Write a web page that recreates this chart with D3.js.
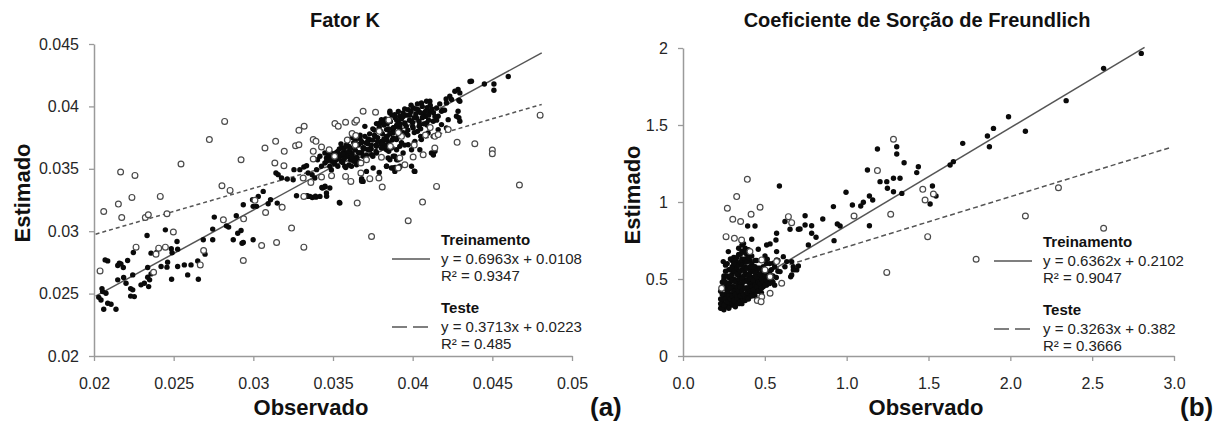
<!DOCTYPE html>
<html><head><meta charset="utf-8">
<script src="https://cdn.jsdelivr.net/npm/d3@7"></script>
<style>
html,body{margin:0;padding:0;background:#fff;}
svg{display:block;font-family:"Liberation Sans",Arial,sans-serif;}
</style></head>
<body><svg id="c" width="1227" height="426"></svg>
<script>
// ---------- DATA ----------
const titles = ["Fator K", "Coeficiente de Sorção de Freundlich"];
const axisTitleX = "Observado", axisTitleY = "Estimado";
const panelTags = ["(a)", "(b)"];

const kXTicks = [0.02,0.025,0.03,0.035,0.04,0.045,0.05];
const kXLabels = ["0.02","0.025","0.03","0.035","0.04","0.045","0.05"];
const kYTicks = [0.02,0.025,0.03,0.035,0.04,0.045];
const kYLabels = ["0.02","0.025","0.03","0.035","0.04","0.045"];
const fXTicks = [0,0.5,1,1.5,2,2.5,3];
const fXLabels = ["0.0","0.5","1.0","1.5","2.0","2.5","3.0"];
const fYTicks = [0,0.5,1,1.5,2];
const fYLabels = ["0","0.5","1","1.5","2"];

// trend lines: [slope, intercept, xStart, xEnd]
const kTrainFit = [0.6963, 0.0108, 0.0201, 0.0481];
const kTestFit  = [0.3713, 0.0223, 0.0201, 0.0481];
const fTrainFit = [0.6362, 0.2102, 0.23, 2.82];
const fTestFit  = [0.3263, 0.382, 0.23, 2.97];

const kLegend = [["Treinamento","y = 0.6963x + 0.0108","R² = 0.9347"],["Teste","y = 0.3713x + 0.0223","R² = 0.485"]];
const fLegend = [["Treinamento","y = 0.6362x + 0.2102","R² = 0.9047"],["Teste","y = 0.3263x + 0.382","R² = 0.3666"]];

// Fator K – training (filled)
const kTrain = [
[0.02086,0.02762],[0.02149,0.02725],[0.02159,0.02744],[0.02169,0.02738],[0.02184,0.02709],[0.02211,0.02765],[0.02247,0.02829],[0.02333,0.02966],[0.02448,0.03011],[0.02521,0.02918],[0.02755,0.03113],[0.02745,0.03017],[0.02831,0.03043],[0.02845,0.03033],[0.02893,0.03124],[0.02937,0.03212],[0.02902,0.02984],[0.02923,0.03006],[0.02937,0.02910],[0.02874,0.02931],[0.02929,0.02904],[0.02745,0.02931],[0.02686,0.02931],[0.02697,0.02816],[0.02525,0.02856],[0.02485,0.02859],[0.02490,0.02827],[0.02458,0.02712],[0.02421,0.02717],[0.02337,0.02709],[0.02358,0.02658],[0.02337,0.02631],[0.02349,0.02610],[0.02316,0.02583],[0.02343,0.02556],[0.02295,0.02570],[0.02243,0.02530],[0.02253,0.02476],[0.02243,0.02650],[0.02186,0.02629],[0.02201,0.02583],[0.02149,0.02610],[0.02075,0.02503],[0.02054,0.02516],[0.02086,0.02423],[0.02107,0.02415],[0.02044,0.02449],[0.02061,0.02374],[0.02138,0.02374],[0.02358,0.02824],[0.02393,0.02829],[0.02487,0.02615],[0.02588,0.02650],[0.02655,0.02615],[0.02609,0.02730],[0.02567,0.02730],[0.02651,0.02762],[0.02462,0.02752],[0.02525,0.02717],[0.0207,0.0277],[0.0203,0.0247],[0.0205,0.0254],[0.0223,0.0248],[0.0223,0.0254],
[0.02995,0.03252],[0.03031,0.03279],[0.03062,0.03319],[0.03020,0.03199],[0.02999,0.03199],[0.03093,0.03220],[0.03108,0.03252],[0.03150,0.03225],[0.03177,0.03199],[0.03142,0.03466],[0.03156,0.03453],[0.03177,0.03426],[0.03213,0.03418],[0.03250,0.03412],[0.03255,0.03493],[0.03292,0.03493],[0.03317,0.03514],[0.03334,0.03525],[0.03344,0.03466],[0.03369,0.03453],[0.03397,0.03493],[0.03386,0.03426],[0.03434,0.03346],[0.03449,0.03354],[0.03480,0.03346],[0.03459,0.03306],[0.03418,0.03279],[0.03393,0.03273],[0.03355,0.03279],[0.03338,0.03284],[0.03271,0.03284],[0.03543,0.03225],[0.02999,0.02931],
[0.03403,0.03573],[0.03418,0.03600],[0.03449,0.03627],[0.03480,0.03640],[0.03501,0.03600],[0.03522,0.03573],[0.03554,0.03560],[0.03564,0.03627],[0.03595,0.03600],[0.03606,0.03640],[0.03637,0.03586],[0.03669,0.03627],[0.03689,0.03667],[0.03710,0.03707],[0.03731,0.03734],[0.03763,0.03760],[0.03773,0.03680],[0.03815,0.03720],[0.03836,0.03760],[0.03857,0.03787],[0.03878,0.03814],[0.03899,0.03841],[0.03909,0.03881],[0.03857,0.03948],[0.03804,0.03894],[0.03773,0.03862],[0.03836,0.03653],[0.03867,0.03506],[0.03888,0.03479],[0.03836,0.03520],[0.03752,0.03506],[0.03710,0.03479],[0.03679,0.03412],[0.03689,0.03399],[0.03648,0.03533],[0.03616,0.03520],[0.03574,0.03520],[0.03480,0.03520],[0.03449,0.03546],[0.03428,0.03520],[0.03459,0.03586],[0.03491,0.03560],[0.03522,0.03613],[0.03554,0.03667],[0.03585,0.03693],[0.03606,0.03667],[0.03648,0.03693],[0.03679,0.03720],[0.03721,0.03653],[0.03742,0.03613],[0.03773,0.03627],[0.03804,0.03667],[0.03899,0.03734],[0.03899,0.03653],[0.03878,0.03600],[0.03857,0.03573],[0.03909,0.03573],[0.03920,0.03520],
[0.04369,0.04202],[0.04285,0.04135],[0.04296,0.04108],[0.04265,0.04121],[0.04233,0.04081],[0.04244,0.04055],[0.04212,0.04028],[0.04296,0.04041],[0.04285,0.03961],[0.04275,0.03921],[0.04296,0.03881],[0.04223,0.03894],[0.04108,0.04041],[0.04087,0.04041],[0.04055,0.04028],[0.04034,0.03974],[0.04003,0.03988],[0.03972,0.03974],[0.03982,0.03934],[0.03940,0.03948],[0.03919,0.03921],[0.03888,0.03934],[0.03857,0.03961],[0.03846,0.03894],[0.03815,0.03881],[0.03794,0.03867],[0.03836,0.03814],[0.03878,0.03827],[0.03919,0.03841],[0.03951,0.03867],[0.03993,0.03881],[0.04024,0.03907],[0.04066,0.03934],[0.04108,0.03961],[0.04150,0.03988],[0.04181,0.03961],[0.04160,0.03921],[0.04129,0.03881],[0.04087,0.03867],[0.04045,0.03854],[0.04003,0.03827],[0.03961,0.03787],[0.03919,0.03760],[0.03878,0.03747],[0.03836,0.03734],[0.03804,0.03720],[0.03815,0.03667],[0.03867,0.03667],[0.03919,0.03680],[0.03972,0.03693],[0.04014,0.03720],[0.04055,0.03734],[0.04097,0.03787],[0.04129,0.03760],[0.04160,0.03814],[0.04181,0.03854],[0.04212,0.03827],[0.04118,0.03627],[0.04045,0.03653],[0.03993,0.03653],[0.03940,0.03627],[0.03888,0.03600],[0.03846,0.03586],[0.03899,0.03573],[0.03836,0.03520],[0.03878,0.03506],[0.03919,0.03514],[0.03993,0.03520],[0.04014,0.03479],
[0.0354,0.0323],[0.0368,0.0342],[0.0368,0.0340],[0.0379,0.0347],[0.0389,0.0351],[0.0401,0.0348],[0.0414,0.0364],[0.0413,0.0361],[0.0429,0.0405],[0.0436,0.0420],[0.0445,0.0418],[0.0451,0.0418],[0.0451,0.0413],[0.0460,0.0424],[0.0429,0.0391],[0.0420,0.0397],[0.0334,0.0328],[0.0337,0.0327],[0.0339,0.0328],[0.0343,0.0335],[0.0345,0.0336],[0.0346,0.0328],
[0.0346,0.0356],[0.0348,0.0359],[0.0350,0.0362],[0.0351,0.0354],[0.0352,0.0358],[0.0353,0.0364],[0.0354,0.0359],[0.0355,0.0361],[0.0356,0.0355],[0.0357,0.0366],[0.0358,0.0360],[0.0359,0.0363],[0.0360,0.0368],[0.0361,0.0357],[0.0362,0.0362],[0.0363,0.0371],[0.0364,0.0365],[0.0365,0.0359],[0.0366,0.0369],[0.0367,0.0374],[0.0368,0.0363],[0.0369,0.0367],[0.0370,0.0376],[0.0371,0.0361],[0.0372,0.0370],[0.0373,0.0378],[0.0374,0.0366],[0.0375,0.0373],[0.0376,0.0381],[0.0377,0.0369],[0.0378,0.0375],[0.0379,0.0383],[0.0380,0.0370],[0.0381,0.0378],[0.0382,0.0385],[0.0383,0.0369],[0.0384,0.0376],[0.0385,0.0382],[0.0386,0.0388],[0.0387,0.0373],[0.0388,0.0379],[0.0389,0.0391],[0.0390,0.0385],[0.0391,0.0376],[0.0392,0.0382],[0.0393,0.0390],[0.0394,0.0379],[0.0395,0.0386],[0.0396,0.0393],[0.0397,0.0381],[0.0398,0.0389],[0.0399,0.0396],[0.0400,0.0384],[0.0401,0.0391],[0.0402,0.0398],[0.0403,0.0380],[0.0404,0.0388],[0.0405,0.0395],[0.0406,0.0400],[0.0407,0.0386],[0.0408,0.0392],[0.0409,0.0399],[0.0410,0.0389],[0.0411,0.0401],[0.0413,0.0395],[0.0415,0.0389],[0.0417,0.0402],[0.0419,0.0397],[0.0421,0.0406],[0.0362,0.0375],[0.0355,0.0370],[0.0370,0.0384],[0.0360,0.0353],[0.0375,0.0360],[0.0385,0.0364],[0.0395,0.0369],[0.0405,0.0376],[0.0349,0.0349],[0.0358,0.0351],[0.0366,0.0356],
[0.0352,0.0363],[0.0354,0.0366],[0.0356,0.0362],[0.0358,0.0368],[0.0360,0.0364],[0.0362,0.0359],[0.0364,0.0373],[0.0366,0.0363],[0.0368,0.0371],[0.0370,0.0366],[0.0372,0.0374],[0.0374,0.0369],[0.0376,0.0377],[0.0378,0.0372],[0.0380,0.0380],[0.0382,0.0374],[0.0384,0.0386],[0.0386,0.0378],[0.0388,0.0383],[0.0390,0.0389],[0.0392,0.0386],[0.0394,0.0392],[0.0396,0.0384],[0.0398,0.0393],[0.0400,0.0387],[0.0402,0.0394],[0.0404,0.0384],[0.0406,0.0391],[0.0408,0.0396],[0.0410,0.0393],[0.0412,0.0398],[0.0414,0.0392],[0.0347,0.0361],[0.0350,0.0357],[0.0353,0.0352],[0.0357,0.0358],[0.0361,0.0366],[0.0365,0.0370],[0.0369,0.0360],[0.0373,0.0365],[0.0377,0.0364],[0.0381,0.0367],[0.0385,0.0371],[0.0389,0.0374],[0.0393,0.0371],[0.0397,0.0377],[0.0401,0.0379],[0.0405,0.0382],[0.0409,0.0385],[0.0363,0.0356],[0.0371,0.0371],[0.0379,0.0385],[0.0387,0.0393],[0.0395,0.0398],[0.0403,0.0402],[0.0383,0.0390],[0.0375,0.0382],[0.0367,0.0377],[0.0391,0.0396],[0.0399,0.0401]
];
// Fator K – test (open)
const kTest = [
[0.02167,0.03474],[0.02257,0.03447],[0.02546,0.03538],[0.02923,0.03573],[0.02724,0.03734],[0.02061,0.03158],[0.02153,0.03217],[0.02238,0.03271],[0.02416,0.03279],[0.02174,0.03110],[0.02322,0.03110],[0.02341,0.03132],[0.02458,0.03140],[0.02803,0.03364],[0.02854,0.03327],[0.02498,0.02993],[0.02264,0.02872],[0.02406,0.02864],[0.02448,0.02872],[0.02389,0.02816],[0.02688,0.02845],[0.02038,0.02682],[0.02374,0.02671],[0.02667,0.02730],[0.02937,0.02765],[0.02812,0.03091],[0.02939,0.03099],[0.0282,0.0388],
[0.03073,0.03667],[0.03140,0.03720],[0.03194,0.03640],[0.03265,0.03685],[0.03286,0.03693],[0.03286,0.03808],[0.03319,0.03841],[0.03376,0.03734],[0.03393,0.03720],[0.03376,0.03640],[0.03135,0.03546],[0.03192,0.03525],[0.03376,0.03578],[0.03428,0.03675],[0.03476,0.03653],[0.03512,0.03862],[0.03533,0.03841],[0.03579,0.03873],[0.03637,0.03873],[0.03648,0.03889],[0.03620,0.03782],[0.03643,0.03766],[0.03689,0.03961],[0.03767,0.03953],[0.03010,0.03247],[0.03077,0.03150],[0.03181,0.03191],[0.03313,0.03426],[0.03361,0.03391],[0.03317,0.03279],[0.03428,0.03434],[0.03491,0.03445],[0.03579,0.03439],[0.03612,0.03399],[0.03675,0.03466],[0.03731,0.03421],[0.03788,0.03426],[0.03809,0.03354],[0.03652,0.03225],[0.03804,0.03592],[0.03240,0.03025],[0.03052,0.02886],[0.03146,0.02910],[0.03317,0.02872],[0.03742,0.02958],[0.03675,0.03546],[0.03710,0.03573],
[0.04223,0.03814],[0.04279,0.03712],[0.04390,0.03701],[0.04139,0.03667],[0.04150,0.03359],[0.04062,0.03233],[0.03972,0.03084],[0.03909,0.03506],[0.03919,0.03586],[0.03951,0.03533],[0.04003,0.03594],[0.04066,0.03613],[0.04139,0.03760],[0.04160,0.03774],
[0.0450,0.0365],[0.0450,0.0362],[0.0467,0.0337],[0.0480,0.0393],
[0.0386,0.0368],[0.0393,0.0376],[0.0401,0.0369],[0.0408,0.0377],[0.0411,0.0383],[0.0385,0.0389],[0.0379,0.0380],[0.0364,0.0369],[0.0391,0.0379],[0.0351,0.0360],[0.0359,0.0373]
];
// Freundlich – training (filled)
const fTrain = [
[0.23,0.31],[0.24,0.33],[0.24,0.36],[0.25,0.30],[0.25,0.39],[0.23,0.42],[0.26,0.34],[0.26,0.45],[0.24,0.48],[0.25,0.52],[0.26,0.40],[0.23,0.37],[0.25,0.44],[0.26,0.55],[0.24,0.31],
[0.27,0.32],[0.27,0.38],[0.28,0.35],[0.28,0.43],[0.27,0.47],[0.29,0.33],[0.29,0.40],[0.28,0.51],[0.30,0.36],[0.30,0.45],[0.29,0.56],[0.27,0.60],[0.30,0.53],[0.28,0.31],[0.29,0.48],[0.30,0.62],[0.27,0.42],[0.30,0.34],
[0.31,0.33],[0.31,0.39],[0.32,0.36],[0.32,0.44],[0.31,0.50],[0.33,0.35],[0.33,0.41],[0.32,0.55],[0.34,0.38],[0.34,0.47],[0.33,0.60],[0.31,0.64],[0.34,0.53],[0.32,0.32],[0.33,0.49],[0.34,0.66],[0.31,0.45],[0.34,0.34],[0.32,0.58],
[0.35,0.36],[0.35,0.42],[0.36,0.38],[0.36,0.46],[0.35,0.51],[0.37,0.37],[0.37,0.44],[0.36,0.56],[0.38,0.40],[0.38,0.49],[0.37,0.61],[0.35,0.66],[0.38,0.54],[0.36,0.34],[0.37,0.52],[0.38,0.70],[0.35,0.47],[0.38,0.36],[0.36,0.63],[0.37,0.73],
[0.39,0.38],[0.39,0.44],[0.40,0.41],[0.40,0.48],[0.39,0.53],[0.41,0.39],[0.41,0.46],[0.40,0.57],[0.42,0.42],[0.42,0.51],[0.41,0.62],[0.39,0.66],[0.42,0.56],[0.40,0.37],[0.41,0.54],[0.42,0.47],[0.39,0.49],[0.42,0.60],
[0.43,0.40],[0.43,0.46],[0.44,0.43],[0.44,0.50],[0.43,0.55],[0.45,0.42],[0.45,0.48],[0.44,0.58],[0.46,0.45],[0.46,0.52],[0.45,0.62],[0.43,0.51],[0.46,0.57],[0.44,0.39],[0.45,0.55],
[0.47,0.44],[0.47,0.50],[0.48,0.47],[0.48,0.54],[0.49,0.45],[0.49,0.58],[0.50,0.49],[0.50,0.55],[0.51,0.46],[0.51,0.60],[0.47,0.57],[0.48,0.41],[0.50,0.63],[0.49,0.51],
[0.52,0.47],[0.52,0.53],[0.53,0.50],[0.54,0.56],[0.55,0.48],[0.55,0.52],[0.56,0.58],[0.57,0.51],[0.58,0.55],[0.53,0.60],[0.56,0.46],[0.58,0.62],
[0.23,0.34],[0.24,0.40],[0.25,0.33],[0.26,0.37],[0.24,0.45],[0.25,0.50],[0.26,0.48],[0.27,0.35],[0.27,0.52],[0.28,0.39],[0.28,0.46],[0.29,0.37],[0.29,0.44],[0.29,0.52],[0.30,0.39],[0.30,0.49],[0.30,0.58],[0.31,0.36],[0.31,0.42],[0.31,0.55],[0.32,0.40],[0.32,0.48],[0.32,0.62],[0.33,0.38],[0.33,0.45],[0.33,0.53],[0.33,0.57],[0.34,0.42],[0.34,0.50],[0.34,0.59],[0.35,0.39],[0.35,0.45],[0.35,0.55],[0.35,0.61],[0.36,0.42],[0.36,0.50],[0.36,0.59],[0.36,0.68],[0.37,0.40],[0.37,0.48],[0.37,0.56],[0.38,0.44],[0.38,0.58],[0.38,0.63],[0.39,0.41],[0.39,0.57],[0.39,0.61],[0.40,0.44],[0.40,0.52],[0.40,0.64],[0.41,0.42],[0.41,0.50],[0.41,0.58],[0.42,0.45],[0.42,0.39],[0.43,0.43],[0.43,0.49],[0.43,0.58],[0.44,0.46],[0.44,0.54],[0.45,0.45],[0.45,0.51],[0.46,0.48],[0.46,0.42],[0.47,0.47],[0.47,0.53],[0.48,0.50],[0.48,0.44],[0.49,0.48],[0.49,0.55],[0.50,0.46],[0.50,0.52],[0.51,0.49],[0.51,0.55],[0.52,0.50],[0.53,0.47],[0.53,0.55],[0.54,0.49],[0.54,0.52],[0.36,0.72],[0.34,0.70],[0.38,0.67],[0.40,0.69],[0.33,0.64],[0.26,0.59],[0.28,0.56],[0.31,0.60],[0.29,0.63],[0.42,0.65],[0.44,0.62],
[0.589,1.104],[0.395,0.844],[0.440,0.844],[0.420,0.758],[0.623,0.873],[0.654,0.823],[0.705,0.823],[0.572,0.797],[0.568,0.753],[0.511,0.721],[0.532,0.728],[0.460,0.693],[0.501,0.650],[0.515,0.628],[0.572,0.678],[0.572,0.624],[0.613,0.645],[0.634,0.613],[0.623,0.580],[0.674,0.580],[0.695,0.559],[0.658,0.515],[0.593,0.548],[0.552,0.602],[0.277,0.678],[0.246,0.613],
[2.341,1.658],[1.989,1.554],[1.897,1.478],[1.860,1.429],[1.872,1.359],[2.092,1.459],[1.709,1.381],[1.652,1.262],[1.632,1.240],[1.188,1.344],[1.306,1.359],[1.306,1.312],[1.351,1.255],[1.438,1.229],[1.428,1.191],[1.127,1.208],[1.204,1.132],[1.245,1.132],[1.249,1.089],[1.286,1.154],[1.326,1.154],[1.286,1.067],[1.337,1.056],[1.524,1.104],[1.546,1.039],[1.510,0.987],[0.996,1.063],[1.139,1.039],[1.159,1.013],[1.102,0.998],[1.086,0.974],[1.035,0.981],[0.919,0.970],[0.854,0.890],[0.943,0.857],[0.960,0.844],[1.139,0.846],[0.923,0.749],[0.746,0.911],[0.786,0.846],[0.746,0.851],[0.715,0.825],[0.786,0.797],[0.813,0.771],[0.766,0.721],[0.664,0.613],[0.705,0.585],[0.674,0.559],[0.664,0.526],
[2.57,1.868],[2.80,1.965]
];
// Freundlich – test (open)
const fTest = [
[0.393,1.147],[0.328,1.035],[0.271,0.959],[0.416,0.920],[0.304,0.888],[0.471,0.966],[0.352,0.873],[0.263,0.775],[0.314,0.764],[0.358,0.753],[0.644,0.905],[0.664,0.866],[0.409,0.678],[0.603,0.472],[0.532,0.407],[0.481,0.385],[0.454,0.360],[0.477,0.353],[0.236,0.440],
[0.501,0.559],[0.572,0.613],[0.532,0.515],[0.481,0.624],
[1.286,1.407],[1.188,1.204],[1.465,1.082],[1.479,1.013],[1.530,1.052],[2.294,1.093],[1.045,0.909],[1.269,0.920],[2.092,0.909],[1.495,0.775],[1.245,0.543],[1.791,0.628],[2.57,0.83]
];

// ---------- DRAW ----------
const svg = d3.select("#c");
const AX = "#9a9a9a", TXT = "#262626", LINE = "#555";

function panel(o) {
  const x = d3.scaleLinear().domain(o.xd).range(o.xr);
  const y = d3.scaleLinear().domain(o.yd).range(o.yr);
  const g = svg.append("g");

  const ax = g.append("g").attr("transform", `translate(0,${o.yr[0]})`)
    .call(d3.axisBottom(x).tickValues(o.xt).tickFormat((d,i)=>o.xl[i]).tickSize(5).tickSizeOuter(0));
  const ay = g.append("g").attr("transform", `translate(${o.xr[0]},0)`)
    .call(d3.axisLeft(y).tickValues(o.yt).tickFormat((d,i)=>o.yl[i]).tickSize(5).tickPadding(10).tickSizeOuter(0));
  [ax, ay].forEach(a => {
    a.select(".domain").attr("stroke", AX).attr("stroke-width", 1.5);
    a.selectAll(".tick line").attr("stroke", AX).attr("stroke-width", 1.3);
    a.selectAll("text").attr("fill", TXT).style("font-size", "16px").style("font-family", "'Liberation Sans',Arial,sans-serif");
  });
  ax.selectAll("text").attr("y", 33).attr("dy", null);

  const fitLine = (f, dash) => g.append("line")
    .attr("x1", x(f[2])).attr("y1", y(f[0]*f[2]+f[1]))
    .attr("x2", x(f[3])).attr("y2", y(f[0]*f[3]+f[1]))
    .attr("stroke", LINE).attr("stroke-width", 1.5).attr("stroke-dasharray", dash);
  fitLine(o.trainFit, null);
  fitLine(o.testFit, o.dash);

  g.append("g").selectAll("circle").data(o.train).join("circle")
    .attr("cx", d=>x(d[0])).attr("cy", d=>y(d[1])).attr("r", 2.7).attr("fill", "#0a0a0a");
  g.append("g").selectAll("circle").data(o.test).join("circle")
    .attr("cx", d=>x(d[0])).attr("cy", d=>y(d[1])).attr("r", 2.9)
    .attr("fill", "#fff").attr("stroke", "#4a4a4a").attr("stroke-width", 1.2);

  g.append("text").attr("x", o.titleX).attr("y", 27).attr("text-anchor", "middle")
    .style("font-size", "20px").style("font-weight", "bold").attr("fill", "#111").text(o.title);
  g.append("text").attr("x", o.obsX).attr("y", 415).attr("text-anchor", "middle")
    .style("font-size", "22px").style("font-weight", "bold").attr("fill", "#111").text(axisTitleX);
  g.append("text").attr("transform", `translate(${o.estX},${o.estY}) rotate(-90)`).attr("text-anchor", "middle")
    .style("font-size", "22px").style("font-weight", "bold").attr("fill", "#111").text(axisTitleY);
  g.append("text").attr("x", o.tagX).attr("y", 416)
    .style("font-size", "26px").style("font-weight", "bold").attr("fill", "#111").text(o.tag);

  o.legend.forEach((L, i) => {
    const base = o.legY[i];
    g.append("text").attr("x", o.legX).attr("y", base).style("font-size", "15px").style("font-weight", "bold").attr("fill", "#111").text(L[0]);
    g.append("text").attr("x", o.legX).attr("y", base + 19).style("font-size", "15px").attr("fill", "#222").text(L[1]);
    g.append("text").attr("x", o.legX).attr("y", base + 36).style("font-size", "15px").attr("fill", "#222").text(L[2]);
    g.append("line").attr("x1", o.legX - 49).attr("x2", o.legX - 11)
      .attr("y1", base + 14).attr("y2", base + 14)
      .attr("stroke", LINE).attr("stroke-width", 1.5).attr("stroke-dasharray", i ? "15,6" : null);
  });
}

panel({xd:[0.02,0.05], xr:[94,572], yd:[0.02,0.045], yr:[356,44],
  xt:kXTicks, xl:kXLabels, yt:kYTicks, yl:kYLabels,
  train:kTrain, test:kTest, trainFit:kTrainFit, testFit:kTestFit, dash:"4,3",
  title:titles[0], titleX:345, obsX:311, estX:30, estY:193, tag:panelTags[0], tagX:590,
  legend:kLegend, legX:441, legY:[245,313]});

panel({xd:[0,3], xr:[683,1174], yd:[0,2], yr:[356,48],
  xt:fXTicks, xl:fXLabels, yt:fYTicks, yl:fYLabels,
  train:fTrain, test:fTest, trainFit:fTrainFit, testFit:fTestFit, dash:"5,3",
  title:titles[1], titleX:917, obsX:926, estX:640, estY:195, tag:panelTags[1], tagX:1180,
  legend:fLegend, legX:1043, legY:[247,315]});
</script></body></html>
